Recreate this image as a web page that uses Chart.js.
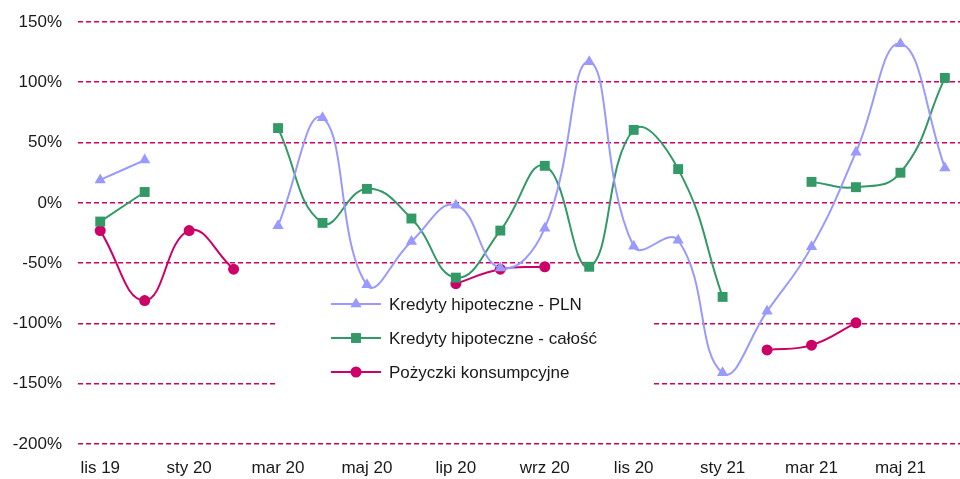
<!DOCTYPE html>
<html>
<head>
<meta charset="utf-8">
<script src="https://cdn.jsdelivr.net/npm/chart.js@4.4.1/dist/chart.umd.min.js"></script>
<style>
html,body{margin:0;padding:0;background:#fff;overflow:hidden;}
#wrap{width:960px;height:479px;position:relative;overflow:hidden;}
canvas{display:block;}
</style>
</head>
<body>
<div id="wrap"><canvas id="c" width="960" height="479"></canvas></div>
<script>
const categories = ['lis 19','gru 19','sty 20','lut 20','mar 20','kwi 20','maj 20','cze 20','lip 20','sie 20','wrz 20','paź 20','lis 20','gru 20','sty 21','lut 21','mar 21','kwi 21','maj 21','cze 21'];
const shownLabels = ['lis 19','sty 20','mar 20','maj 20','lip 20','wrz 20','lis 20','sty 21','mar 21','maj 21'];
const kredytyPLN = [19, 35.5, null, null, -19, 70.5, -68, -32, -2, -54, -21, 117, -36, -31, -141, -90, -36.5, 42, 132, 29];
const kredytyCalosc = [-15.5, 9, null, null, 62, -16.6, 11.6, -13, -62, -23, 30.7, -53, 60.5, 28, -78, null, 17.4, 13, 25, 103.6];
const pozyczki = [-23, -81, -23, -55, null, null, null, null, -67, -55, -53, null, null, null, null, -122, -118, -99.5, null, null];
const yTicks = [150, 100, 50, 0, -50, -100, -150, -200];
const seriesNames = ['Kredyty hipoteczne - PLN', 'Kredyty hipoteczne - całość', 'Pożyczki konsumpcyjne'];

const FONT = '"Liberation Sans", Arial, sans-serif';
const GRID = '#CC0066';
const toXY = arr => arr.map((v, i) => ({x: i, y: v}));

const legendPlugin = {
  id: 'insideLegend',
  afterDatasetsDraw(chart) {
    const ctx = chart.ctx;
    ctx.save();
    ctx.fillStyle = '#ffffff';
    ctx.fillRect(276, 289, 376, 106);
    const rows = [304, 338, 372];
    chart.data.datasets.forEach((ds, i) => {
      const y = rows[i];
      const cx = 356;
      ctx.strokeStyle = ds.borderColor;
      ctx.lineWidth = 2;
      ctx.beginPath();
      ctx.moveTo(331, y);
      ctx.lineTo(381, y);
      ctx.stroke();
      ctx.fillStyle = ds.pointBackgroundColor;
      const r = ds.pointRadius;
      ctx.beginPath();
      if (ds.pointStyle === 'triangle') {
        ctx.moveTo(cx, y - r);
        ctx.lineTo(cx + r * 0.866, y + r * 0.5);
        ctx.lineTo(cx - r * 0.866, y + r * 0.5);
        ctx.closePath();
      } else if (ds.pointStyle === 'rect') {
        const s = r * Math.SQRT1_2;
        ctx.rect(cx - s, y - s, 2 * s, 2 * s);
      } else {
        ctx.arc(cx, y, r, 0, Math.PI * 2);
      }
      ctx.fill();
      ctx.fillStyle = '#1a1a1a';
      ctx.font = '17px ' + FONT;
      ctx.textBaseline = 'middle';
      ctx.textAlign = 'left';
      ctx.fillText(ds.label, 389, y + 1);
    });
    ctx.restore();
  }
};

new Chart(document.getElementById('c'), {
  type: 'line',
  data: {
    datasets: [
      {label: seriesNames[0], data: toXY(kredytyPLN), borderColor: '#9999FF', backgroundColor: '#9999FF', pointBackgroundColor: '#9999FF', pointBorderWidth: 0, pointStyle: 'triangle', pointRadius: 6.5, borderWidth: 2, tension: 0.45, spanGaps: false},
      {label: seriesNames[1], data: toXY(kredytyCalosc), borderColor: '#339966', backgroundColor: '#339966', pointBackgroundColor: '#339966', pointBorderWidth: 0, pointStyle: 'rect', pointRadius: 7, borderWidth: 2, tension: 0.45, spanGaps: false},
      {label: seriesNames[2], data: toXY(pozyczki), borderColor: '#CC0066', backgroundColor: '#CC0066', pointBackgroundColor: '#CC0066', pointBorderWidth: 0, pointStyle: 'circle', pointRadius: 5.5, borderWidth: 2, tension: 0.45, spanGaps: false}
    ]
  },
  options: {
    responsive: false,
    animation: false,
    devicePixelRatio: 1,
    layout: {autoPadding: false, padding: {top: 22, right: 0, left: 0, bottom: 0}},
    plugins: {legend: {display: false}, tooltip: {enabled: false}},
    elements: {line: {capBezierPoints: false}},
    scales: {
      x: {
        type: 'linear',
        min: -0.5, max: 19.34,
        grid: {display: false, drawTicks: false},
        border: {display: false},
        afterFit(scale) { scale.height = 35; scale.paddingLeft = 0; scale.paddingRight = 0; },
        afterBuildTicks(scale) { scale.ticks = shownLabels.map(l => ({value: categories.indexOf(l)})); },
        ticks: {
          autoSkip: false, maxRotation: 0, padding: 14,
          color: '#1a1a1a', font: {family: FONT, size: 17},
          callback(v) { return categories[v]; }
        }
      },
      y: {
        min: -200, max: 150,
        afterFit(scale) { scale.width = 78; scale.paddingTop = 0; scale.paddingBottom = 0; },
        afterBuildTicks(scale) { scale.ticks = yTicks.map(v => ({value: v})); },
        grid: {color: GRID, lineWidth: 1.6, drawTicks: false},
        border: {display: false, dash: [5, 3]},
        ticks: {
          padding: 16, color: '#1a1a1a', font: {family: FONT, size: 17},
          callback(v) { return v + '%'; }
        }
      }
    }
  },
  plugins: [legendPlugin]
});
</script>
</body>
</html>
